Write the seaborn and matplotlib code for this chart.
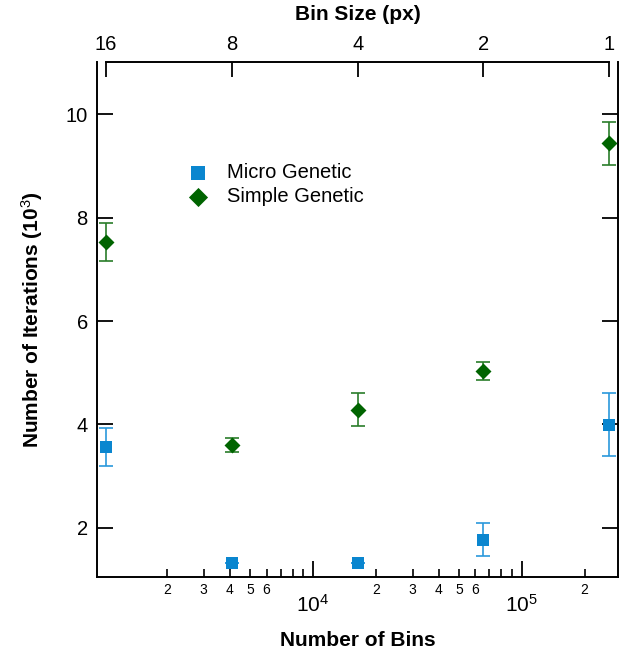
import numpy as np
import pandas as pd
import seaborn as sns
import matplotlib
matplotlib.use("Agg")
import matplotlib.pyplot as plt
from matplotlib.ticker import FixedLocator, FuncFormatter, NullLocator

# =========================
# DATA
# =========================
bin_size = [16, 8, 4, 2, 1]
n_bins = [1024, 4096, 16384, 65536, 262144]

micro_mean = [3.56, 1.32, 1.32, 1.77, 3.99]
micro_err = [0.37, 0.0, 0.0, 0.32, 0.61]

simple_mean = [7.53, 3.60, 4.28, 5.03, 9.44]
simple_err = [0.37, 0.13, 0.32, 0.18, 0.42]

df = pd.DataFrame({"bins": n_bins * 2,
                   "iters": micro_mean + simple_mean,
                   "err": micro_err + simple_err,
                   "method": ["Micro Genetic"] * 5 + ["Simple Genetic"] * 5})

BLUE = "#0a86cf"
BLUE_ERR = "#2a98dc"
GREEN = "#006400"
GREEN_ERR = "#2a7d2a"

# =========================
# STYLE
# =========================
sns.set_style("ticks")
plt.rcParams["font.family"] = ["Liberation Sans", "DejaVu Sans"]
plt.rcParams["mathtext.fontset"] = "custom"
plt.rcParams["mathtext.rm"] = "Liberation Sans"
plt.rcParams["mathtext.it"] = "Liberation Sans"
plt.rcParams["mathtext.bf"] = "Liberation Sans:bold"
plt.rcParams["axes.linewidth"] = 1.4
plt.rcParams["axes.edgecolor"] = "black"
for k in ["text.color", "axes.labelcolor", "xtick.color", "ytick.color"]:
    plt.rcParams[k] = "black"

fig = plt.figure(figsize=(6.29, 6.55), dpi=100)
ax = fig.add_axes([0.154, 0.119, 0.8285, 0.786])

# =========================
# PLOT
# =========================
styles = {"Micro Genetic": ("s", BLUE, BLUE_ERR, 70),
          "Simple Genetic": ("D", GREEN, GREEN_ERR, 66)}

for name, (mk, col, ecol, size) in styles.items():
    sub = df[df["method"] == name]
    ax.errorbar(sub["bins"], sub["iters"], yerr=sub["err"], fmt="none",
                ecolor=ecol, elinewidth=1.2, capsize=4.7, capthick=1.2, zorder=2)
    sns.scatterplot(data=sub, x="bins", y="iters", marker=mk, color=col,
                    s=size, linewidth=0, label=name, ax=ax, zorder=3)

ax.set_xscale("log")
ax.set_xlim(924, 289000)
ax.set_ylim(1.045, 11.01)

# bottom axis ticks
ax.xaxis.set_major_locator(FixedLocator([1e4, 1e5]))
ax.xaxis.set_major_formatter(FuncFormatter(lambda v, p: r"$10^{%d}$" % round(np.log10(v))))
minor = [m * 10 ** d for d in range(3, 6) for m in range(2, 10)]
ax.xaxis.set_minor_locator(FixedLocator(minor))


def minor_fmt(v, p):
    m = int(round(v / 10 ** np.floor(np.log10(v) + 1e-9)))
    return str(m) if 2 <= m <= 6 else ""


ax.xaxis.set_minor_formatter(FuncFormatter(minor_fmt))
ax.tick_params(axis="x", which="major", direction="in", length=11.3, width=1.3,
               labelsize=15, pad=12, top=False)
ax.tick_params(axis="x", which="minor", direction="in", length=6, width=1.2,
               labelsize=10, pad=4, top=False)

ax.set_yticks([2, 4, 6, 8, 10])
ax.tick_params(axis="y", direction="in", length=11.5, width=1.3, labelsize=14.5,
               pad=6.5, left=True, right=True)

ax.spines["top"].set_visible(False)
ax.spines["right"].set_visible(True)

ax.set_xlabel("Number of Bins", fontsize=15, fontweight="bold", labelpad=11)
ax.set_ylabel(r"Number of Iterations (10$^{3}$)", fontsize=15, fontweight="bold", labelpad=15)

# top axis: bin size
ax2 = ax.twiny()
ax2.set_xscale("log")
ax2.set_xlim(ax.get_xlim())
ax2.xaxis.set_minor_locator(NullLocator())
ax2.set_xticks(n_bins)
ax2.set_xticklabels([str(b) for b in bin_size])
ax2.tick_params(axis="x", direction="in", length=11, width=1.3, labelsize=14.5, pad=6)
for s in ["left", "right", "bottom"]:
    ax2.spines[s].set_visible(False)
ax2.spines["top"].set_bounds(n_bins[0], n_bins[-1])
ax2.set_xlabel("Bin Size (px)", fontsize=15, fontweight="bold", labelpad=11)

# legend
leg = ax.legend(loc="center left", bbox_to_anchor=(0.177, 0.7625), frameon=False,
                fontsize=14.5, borderpad=0, borderaxespad=0, handlelength=0.85,
                handletextpad=1.05, labelspacing=0.24, markerscale=1.2)

fig.savefig("out.png", dpi=100)
